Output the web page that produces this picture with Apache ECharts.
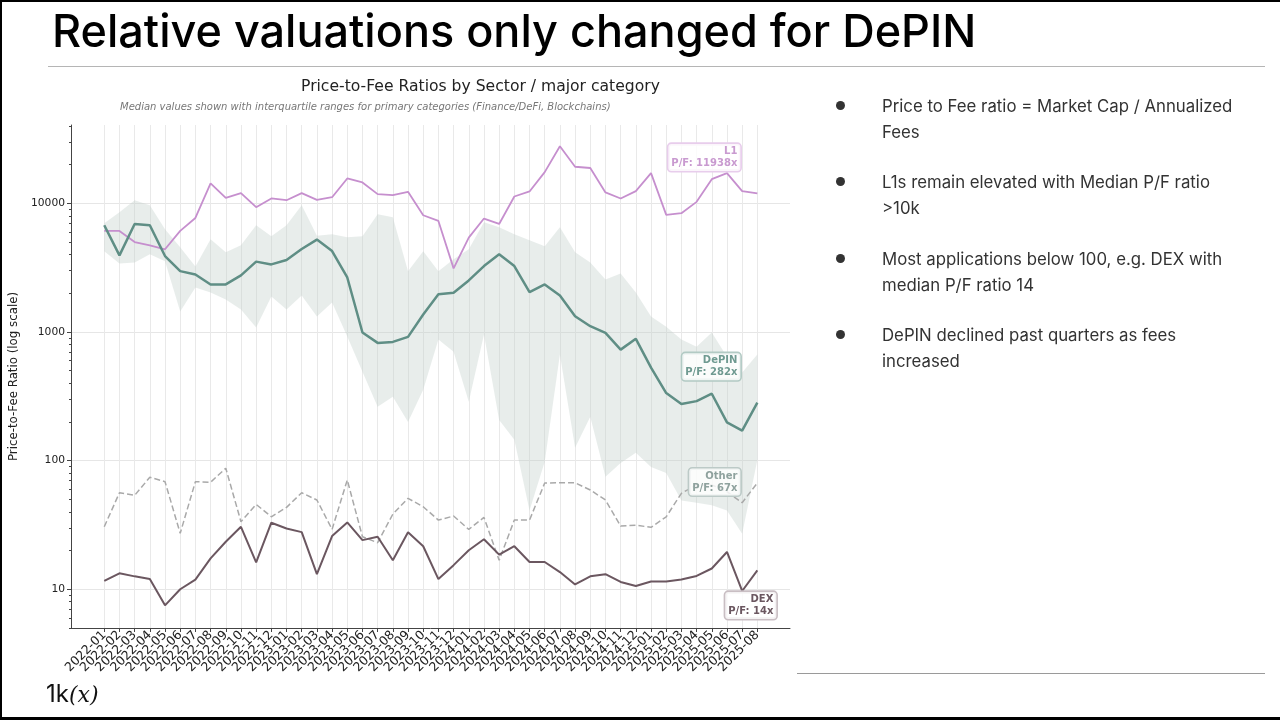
<!DOCTYPE html>
<html>
<head>
<meta charset="utf-8">
<script src="https://cdn.jsdelivr.net/npm/echarts@6.0.0/dist/echarts.min.js"></script>
<style>
  html, body { margin: 0; padding: 0; background: #fff; }
  #slide { position: relative; width: 1280px; height: 720px; overflow: hidden; background: #fff; }
  #chart { position: absolute; left: 0; top: 0; width: 1280px; height: 720px; }
  .frame-top { position: absolute; left: 0; top: 0; width: 1280px; height: 2px; background: #000; }
  .frame-bottom { position: absolute; left: 0; top: 717px; width: 1280px; height: 3px; background: #000; }
  .frame-left { position: absolute; left: 0; top: 0; width: 2px; height: 720px; background: #000; }
  .headline { position: absolute; left: 52px; top: 8px; font-family: Inter, sans-serif; font-weight: 500;
              font-size: 45px; line-height: 45px; color: #000; white-space: nowrap; }
  .rule { position: absolute; height: 1px; background: #b5b5b5; }
  .bullet { position: absolute; left: 882px; font-family: Inter, sans-serif; font-size: 16.8px; line-height: 26px; color: #333; }
  .dot { position: absolute; left: 836px; width: 9px; height: 9px; border-radius: 50%; background: #333; }
  .logo { position: absolute; left: 46px; top: 680px; font-family: Inter, sans-serif; font-size: 24px; line-height: 28px; color: #111; }
  .logo i { font-family: 'DejaVu Serif', serif; font-size: 22px; }
</style>
</head>
<body>
<div id="slide">
  <div id="chart"></div>
  <div class="frame-top"></div>
  <div class="frame-bottom"></div>
  <div class="frame-left"></div>
  <div class="headline">Relative valuations only changed for DePIN</div>
  <div class="rule" style="left:48px;top:66px;width:1217px;"></div>
  <div class="rule" style="left:797px;top:673px;width:468px;background:#9a9a9a;"></div>

  <div class="dot" style="top:101px;"></div>
  <div class="bullet" style="top:93px;">Price to Fee ratio = Market Cap / Annualized<br>Fees</div>
  <div class="dot" style="top:177px;"></div>
  <div class="bullet" style="top:169px;">L1s remain elevated with Median P/F ratio<br>&gt;10k</div>
  <div class="dot" style="top:254px;"></div>
  <div class="bullet" style="top:246px;">Most applications below 100, e.g. DEX with<br>median P/F ratio 14</div>
  <div class="dot" style="top:330px;"></div>
  <div class="bullet" style="top:322px;">DePIN declined past quarters as fees<br>increased</div>

  <div class="logo">1k<i>(x)</i></div>
</div>
<script>
const months = [
  '2022-01', '2022-02', '2022-03', '2022-04', '2022-05', '2022-06', '2022-07', '2022-08', '2022-09', '2022-10', '2022-11', '2022-12',
  '2023-01', '2023-02', '2023-03', '2023-04', '2023-05', '2023-06', '2023-07', '2023-08', '2023-09', '2023-10', '2023-11', '2023-12',
  '2024-01', '2024-02', '2024-03', '2024-04', '2024-05', '2024-06', '2024-07', '2024-08', '2024-09', '2024-10', '2024-11', '2024-12',
  '2025-01', '2025-02', '2025-03', '2025-04', '2025-05', '2025-06', '2025-07', '2025-08'
];

// medians per sector
const l1Median = [
  6100, 6100, 5000, 4700, 4390, 6100, 7690, 14260, 11020, 11990, 9330, 10900,
  10570, 11990, 10630, 11150, 15600, 14520, 11780, 11570, 12270, 8070, 7290, 3120,
  5410, 7610, 6910, 11290, 12360, 17460, 27730, 19230, 18800, 12140, 10900, 12420,
  17170, 8120, 8380, 10260, 15410, 17170, 12420, 11938
];
const depinMedian = [
  6750, 3940, 6910, 6750, 3890, 2970, 2800, 2340, 2340, 2750, 3520, 3350,
  3620, 4410, 5220, 4250, 2650, 990, 822, 837, 915, 1366, 1967, 2017,
  2515, 3250, 4010, 3250, 2040, 2340, 1920, 1326, 1108, 984, 729, 884,
  528, 335, 275, 290, 331, 198, 171, 282
];
// DePIN interquartile range
const depinQ1 = [
  4230, 3410, 3470, 4010, 3540, 1440, 2220, 2030, 1790, 1495, 1082, 1888,
  1495, 1920, 1320, 1695, 921, 491, 262, 314, 200, 356, 873, 703,
  287, 955, 207, 145, 41, 98, 667, 126, 219, 75, 96, 115,
  89, 80, 49, 47, 45, 41, 27, 101
];
const depinQ3 = [
  7000, 8520, 10570, 9670, 6290, 4550, 3230, 5250, 4160, 4710, 6750, 5540,
  6750, 9670, 5600, 5740, 5440, 5540, 8220, 7790, 2960, 4230, 2960, 3670,
  4390, 7120, 6510, 5740, 5160, 4630, 6510, 4160, 3470, 2560, 2850, 2030,
  1320, 1100, 873, 769, 989, 643, 483, 667
];
const otherMedian = [
  30.6, 56.3, 53.7, 74.2, 68.6, 27.2, 68.6, 67.9, 87.3, 33.5, 45.7, 36.6,
  43.3, 56.3, 49.4, 29.2, 70.7, 25.6, 23.0, 38.4, 50.9, 43.8, 34.5, 37.1,
  29.2, 36.2, 16.8, 34.5, 34.5, 67, 67.2, 67.2, 59.1, 49.4, 31, 31.5,
  30.3, 36.6, 55.7, 64.7, 64.7, 57.3, 47.1, 67
];
const dexMedian = [
  11.6, 13.3, 12.6, 12.0, 7.5, 10.0, 11.9, 17.4, 23.4, 30.6, 16.2, 32.9,
  29.7, 27.8, 13.1, 25.9, 33.1, 24.1, 25.6, 16.8, 27.7, 21.6, 12.0, 15.4,
  20.1, 24.5, 18.6, 21.6, 16.3, 16.3, 13.6, 10.9, 12.6, 13.1, 11.4, 10.6,
  11.5, 11.5, 11.9, 12.7, 14.5, 19.5, 9.7, 14
];

const yMajorTicks = [10, 100, 1000, 10000];
const yMinorTicks = [
  5, 6, 7, 8, 9, 20, 30, 40, 50, 60, 70, 80, 90,
  200, 300, 400, 500, 600, 700, 800, 900,
  2000, 3000, 4000, 5000, 6000, 7000, 8000, 9000, 20000, 30000, 40000
];

const monthIdx = months.map((m, i) => i);
// labels are split over two stacked axes so ECharts keeps every one of them
const evenIdx = monthIdx.filter(i => i % 2 === 0);
const oddIdx = monthIdx.filter(i => i % 2 === 1);
const toPoints = arr => arr.map((v, i) => [i, v]);
const FONT = 'DejaVu Sans';

function monthLabels(values) {
  return {
    customValues: values,
    formatter: v => months[Math.round(v)],
    showMinLabel: true, showMaxLabel: true, hideOverlap: false,
    rotate: 45, margin: 5,
    fontFamily: FONT, fontSize: 12.5, color: '#222'
  };
}

function endTag(name, values, color, border, dx, dy) {
  const last = values.length - 1;
  return {
    symbol: 'rect',
    symbolSize: 0,
    silent: true,
    data: [{ coord: [last, values[last]] }],
    label: {
      show: true,
      position: 'inside',
      formatter: name + '\nP/F: ' + Math.round(values[last]) + 'x',
      align: 'right',
      verticalAlign: 'middle',
      offset: [dx, dy],
      color: color,
      fontFamily: FONT,
      fontWeight: 'bold',
      fontSize: 10,
      lineHeight: 12,
      backgroundColor: 'rgba(255,255,255,0.8)',
      borderColor: border,
      borderWidth: 1.6,
      borderRadius: 3,
      padding: [2, 3, 1, 3]
    }
  };
}

// shaded interquartile band, drawn once as a polygon through the axis scales
function renderBand(params, api) {
  if (params.dataIndex !== 0) return null;
  const top = depinQ3.map((v, i) => api.coord([i, v]));
  const bottom = depinQ1.map((v, i) => api.coord([i, v])).reverse();
  return {
    type: 'polygon',
    shape: { points: top.concat(bottom) },
    style: { fill: 'rgba(190,205,200,0.36)' }
  };
}

const chart = echarts.init(document.getElementById('chart'));
chart.setOption({
  animation: false,
  title: [
    {
      text: 'Price-to-Fee Ratios by Sector / major category',
      left: 301, top: 79, padding: 0,
      textStyle: { fontFamily: FONT, fontSize: 15.6, fontWeight: 'normal', color: '#222' }
    },
    {
      text: 'Median values shown with interquartile ranges for primary categories (Finance/DeFi, Blockchains)',
      left: 120, top: 102, padding: 0,
      textStyle: { fontFamily: FONT, fontSize: 10, fontStyle: 'italic', fontWeight: 'normal', color: '#777' }
    }
  ],
  grid: { left: 71, top: 125, width: 719, height: 503 },
  xAxis: [
    {
      type: 'value',
      min: -2.19,
      max: 45.15,
      position: 'bottom',
      axisLine: { show: true, onZero: false, lineStyle: { color: '#444', width: 1 } },
      axisTick: { show: true, customValues: monthIdx, length: 4, lineStyle: { color: '#444' } },
      axisLabel: monthLabels(evenIdx),
      splitLine: { show: true, lineStyle: { color: '#e9e9e9', width: 1 } }
    },
    {
      type: 'value',
      min: -2.19,
      max: 45.15,
      position: 'bottom',
      offset: 0,
      axisLine: { show: false, onZero: false },
      axisTick: { show: false, customValues: oddIdx },
      axisLabel: monthLabels(oddIdx),
      splitLine: { show: false }
    }
  ],
  yAxis: [
    {
      type: 'log',
      logBase: 10,
      min: 5,
      max: 40600,
      name: 'Price-to-Fee Ratio (log scale)',
      nameLocation: 'middle',
      nameGap: 46,
      nameTextStyle: { fontFamily: FONT, fontSize: 11.8, color: '#222' },
      axisLine: { show: true, onZero: false, lineStyle: { color: '#444', width: 1 } },
      axisTick: { show: true, customValues: yMajorTicks, length: 4, lineStyle: { color: '#444' } },
      axisLabel: {
        customValues: yMajorTicks,
        formatter: v => String(Math.round(v)),
        margin: 6, fontFamily: FONT, fontSize: 10.7, color: '#222'
      },
      splitLine: { show: true, lineStyle: { color: '#e6e6e6', width: 1 } }
    },
    {
      type: 'log',
      logBase: 10,
      min: 5,
      max: 40600,
      position: 'left',
      axisLine: { show: false, onZero: false },
      axisTick: { show: true, customValues: yMinorTicks, length: 2, lineStyle: { color: '#444' } },
      axisLabel: { show: false },
      splitLine: { show: false }
    }
  ],
  series: [
    {
      name: 'DePIN IQR',
      type: 'custom',
      silent: true,
      z: 1,
      data: monthIdx.map(i => [i, depinQ1[i], depinQ3[i]]),
      encode: { x: 0, y: [1, 2] },
      renderItem: renderBand
    },
    {
      name: 'L1',
      type: 'line',
      data: toPoints(l1Median),
      symbol: 'none',
      lineStyle: { color: '#c68fce', width: 1.8 },
      z: 3,
      markPoint: endTag('L1', l1Median, '#c99ad0', '#e8cdec', -17, -36)
    },
    {
      name: 'DePIN',
      type: 'line',
      data: toPoints(depinMedian),
      symbol: 'none',
      lineStyle: { color: '#5f8e85', width: 2.5 },
      z: 4,
      markPoint: endTag('DePIN', depinMedian, '#6f9a91', '#b2cac4', -17, -36)
    },
    {
      name: 'Other',
      type: 'line',
      data: toPoints(otherMedian),
      symbol: 'none',
      lineStyle: { color: '#a9a9a9', width: 1.5, type: [6, 3] },
      z: 3,
      markPoint: endTag('Other', otherMedian, '#8fa29e', '#bccac7', -17, -1)
    },
    {
      name: 'DEX',
      type: 'line',
      data: toPoints(dexMedian),
      symbol: 'none',
      lineStyle: { color: '#6b5760', width: 2 },
      z: 4,
      markPoint: endTag('DEX', dexMedian, '#6b5760', '#c9bec3', 19, 35)
    }
  ]
});
</script>
</body>
</html>
